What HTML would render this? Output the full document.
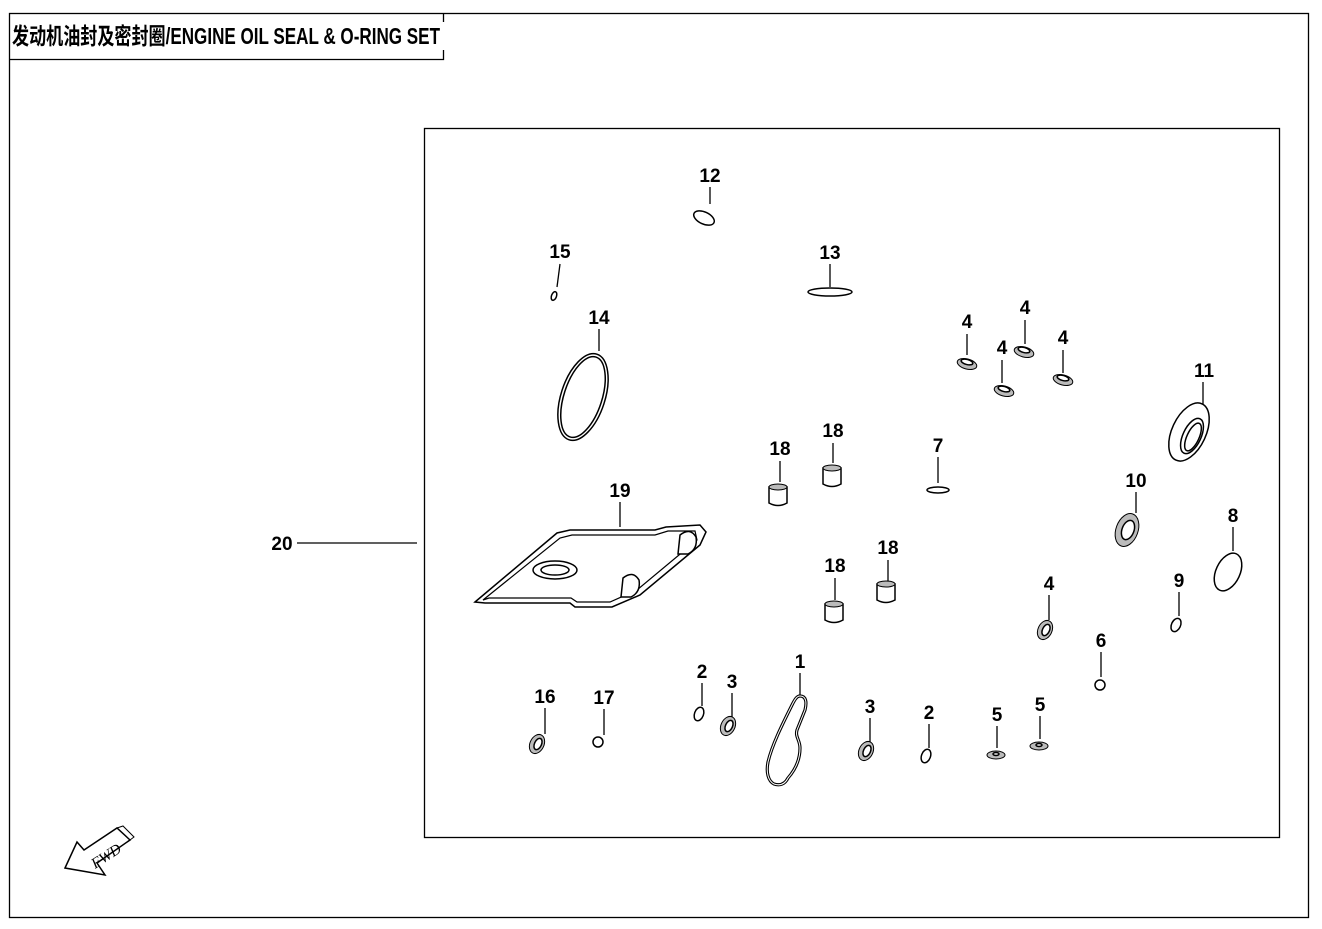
<!DOCTYPE html>
<html><head><meta charset="utf-8"><style>
html,body{margin:0;padding:0;background:#fff;width:1322px;height:929px;overflow:hidden}
svg{display:block}
.t{font-family:"Liberation Sans Narrow","Liberation Sans",sans-serif;font-weight:bold;font-size:19px;fill:#000;text-anchor:middle}
.l{stroke:#000;stroke-width:1.3;fill:none}
.p{stroke:#000;stroke-width:1.5;fill:#fff}
.g{fill:#bbb;stroke:#000;stroke-width:1}
</style></head><body>
<svg width="1322" height="929" viewBox="0 0 1322 929">
<rect x="9.5" y="13.5" width="1299" height="904" class="l"/>
<path d="M9 59.5H443.5V50M443.5 13V22" class="l"/>
<text x="12" y="44" style="font-family:'Liberation Sans Narrow','Liberation Sans','Noto Sans CJK SC',sans-serif;font-weight:bold;font-size:23px" textLength="428" lengthAdjust="spacingAndGlyphs">发动机油封及密封圈/ENGINE OIL SEAL &amp; O-RING SET</text>
<rect x="424.5" y="128.5" width="855" height="709" class="l"/>

<text class="t" x="282" y="550">20</text><path d="M297 543H417" class="l"/>
<text class="t" x="710" y="182">12</text><path d="M710 187V204" class="l"/>
<ellipse cx="704" cy="218" rx="11" ry="6" transform="rotate(25 704 218)" class="p" stroke-width="2.5"/>
<text class="t" x="560" y="258">15</text><path d="M560 264L557 287" class="l"/>
<ellipse cx="554" cy="296" rx="2.5" ry="4.5" transform="rotate(20 554 296)" class="p"/>
<text class="t" x="830" y="259">13</text><path d="M830 264V287" class="l"/>
<ellipse cx="830" cy="292" rx="22" ry="4" class="p" stroke-width="2"/>
<text class="t" x="599" y="324">14</text><path d="M599 329V351" class="l"/>
<ellipse cx="583" cy="397" rx="22" ry="45" transform="rotate(18 583 397)" class="p" stroke-width="1.5"/>
<ellipse cx="583" cy="397" rx="19" ry="42" transform="rotate(18 583 397)" fill="none" stroke="#000" stroke-width="1.5"/>
<g>
<text class="t" x="967" y="328">4</text><path d="M967 334V355" class="l"/>
<ellipse cx="967" cy="364" rx="10" ry="5" transform="rotate(15 967 364)" class="g"/><ellipse cx="967" cy="362" rx="6" ry="2.5" transform="rotate(15 967 362)" class="p"/>
<text class="t" x="1025" y="314">4</text><path d="M1025 320V344" class="l"/>
<ellipse cx="1024" cy="352" rx="10" ry="5" transform="rotate(15 1024 352)" class="g"/><ellipse cx="1024" cy="350" rx="6" ry="2.5" transform="rotate(15 1024 350)" class="p"/>
<text class="t" x="1002" y="354">4</text><path d="M1002 360V383" class="l"/>
<ellipse cx="1004" cy="391" rx="10" ry="5" transform="rotate(15 1004 391)" class="g"/><ellipse cx="1004" cy="389" rx="6" ry="2.5" transform="rotate(15 1004 389)" class="p"/>
<text class="t" x="1063" y="344">4</text><path d="M1063 350V373" class="l"/>
<ellipse cx="1063" cy="380" rx="10" ry="5" transform="rotate(15 1063 380)" class="g"/><ellipse cx="1063" cy="378" rx="6" ry="2.5" transform="rotate(15 1063 378)" class="p"/>
</g>
<text class="t" x="1204" y="377">11</text><path d="M1203 382V408" class="l"/>
<ellipse cx="1189" cy="432" rx="17" ry="31" transform="rotate(25 1189 432)" class="p"/>
<ellipse cx="1192" cy="436" rx="9" ry="19" transform="rotate(25 1192 436)" class="p"/>
<ellipse cx="1193" cy="437" rx="6" ry="15" transform="rotate(25 1193 437)" class="p"/>
<g id="c">
<path d="M769 487h18v16q-9 5 -18 0z" class="p"/><ellipse cx="778" cy="487" rx="9" ry="3" class="g"/>
</g>
<text class="t" x="780" y="455">18</text><path d="M780 461V482" class="l"/>
<use href="#c" transform="translate(54 -19)"/>
<text class="t" x="833" y="437">18</text><path d="M833 443V463" class="l"/>
<use href="#c" transform="translate(56 117)"/>
<text class="t" x="835" y="572">18</text><path d="M835 578V600" class="l"/>
<use href="#c" transform="translate(108 97)"/>
<text class="t" x="888" y="554">18</text><path d="M888 560V581" class="l"/>
<text class="t" x="938" y="452">7</text><path d="M938 457V483" class="l"/>
<ellipse cx="938" cy="490" rx="11" ry="3" class="p"/>
<text class="t" x="1136" y="487">10</text><path d="M1136 492V513" class="l"/>
<ellipse cx="1127" cy="530" rx="11" ry="17" transform="rotate(20 1127 530)" class="g"/><ellipse cx="1128" cy="530" rx="6" ry="10" transform="rotate(20 1128 530)" class="p"/>
<text class="t" x="1233" y="522">8</text><path d="M1233 527V551" class="l"/>
<ellipse cx="1228" cy="572" rx="12" ry="20" transform="rotate(25 1228 572)" class="p" stroke-width="2.5"/>
<text class="t" x="1179" y="587">9</text><path d="M1179 592V616" class="l"/>
<ellipse cx="1176" cy="625" rx="4.5" ry="7" transform="rotate(25 1176 625)" class="p" stroke-width="2"/>
<text class="t" x="1049" y="590">4</text><path d="M1049 595V620" class="l"/>
<ellipse cx="1045" cy="630" rx="7" ry="10" transform="rotate(25 1045 630)" class="g"/><ellipse cx="1046" cy="630" rx="3.5" ry="6" transform="rotate(25 1046 630)" class="p"/>
<text class="t" x="1101" y="647">6</text><path d="M1101 652V677" class="l"/>
<circle cx="1100" cy="685" r="5" class="p" stroke-width="2"/>
<text class="t" x="620" y="497">19</text><path d="M620 502V527" class="l"/>
<path d="M475 602L557 533L570 530H655L666 527L700 525L706 532L700 545L640 595L612 607H575L570 603H485Z" class="p" stroke-width="2"/>
<path d="M483 600L560 538L572 535H655L668 531L695 531L697 540L637 590L610 602H577L571 598H489Z" fill="none" stroke="#000" stroke-width="1.2"/>
<ellipse cx="555" cy="570" rx="22" ry="9" class="p" stroke-width="2"/><ellipse cx="555" cy="570" rx="14" ry="5" class="p"/>
<path d="M680 535q10 -8 16 2q2 12 -8 17l-10 0z" class="p"/>
<path d="M623 578q10 -8 16 2q2 12 -8 17l-10 0z" class="p"/>
<text class="t" x="800" y="668">1</text><path d="M800 673V696" class="l"/>
<path d="M800 696C806 696 807 702 805 710L797 730C795 737 800 740 800 748C800 760 795 770 788 778C785 784 780 786 774 784C768 781 766 772 768 762C772 745 782 725 792 705C795 699 797 696 800 696Z" fill="none" stroke="#000" stroke-width="3.2"/>
<path d="M800 696C806 696 807 702 805 710L797 730C795 737 800 740 800 748C800 760 795 770 788 778C785 784 780 786 774 784C768 781 766 772 768 762C772 745 782 725 792 705C795 699 797 696 800 696Z" fill="none" stroke="#fff" stroke-width="1"/>
<text class="t" x="702" y="678">2</text><path d="M702 683V706" class="l"/>
<ellipse cx="699" cy="714" rx="4.5" ry="7" transform="rotate(20 699 714)" class="p" stroke-width="2"/>
<text class="t" x="732" y="688">3</text><path d="M732 693V717" class="l"/>
<ellipse cx="728" cy="726" rx="7" ry="10" transform="rotate(25 728 726)" class="g"/><ellipse cx="729" cy="726" rx="3.5" ry="6" transform="rotate(25 729 726)" class="p"/>
<text class="t" x="870" y="713">3</text><path d="M870 718V742" class="l"/>
<ellipse cx="866" cy="751" rx="7" ry="10" transform="rotate(25 866 751)" class="g"/><ellipse cx="867" cy="751" rx="3.5" ry="6" transform="rotate(25 867 751)" class="p"/>
<text class="t" x="929" y="719">2</text><path d="M929 724V748" class="l"/>
<ellipse cx="926" cy="756" rx="4.5" ry="7" transform="rotate(20 926 756)" class="p" stroke-width="2"/>
<text class="t" x="545" y="703">16</text><path d="M545 708V734" class="l"/>
<ellipse cx="537" cy="744" rx="7" ry="10" transform="rotate(25 537 744)" class="g"/><ellipse cx="538" cy="744" rx="3.5" ry="6" transform="rotate(25 538 744)" class="p"/>
<text class="t" x="604" y="704">17</text><path d="M604 709V735" class="l"/>
<circle cx="598" cy="742" r="5" class="p" stroke-width="2"/>
<text class="t" x="997" y="721">5</text><path d="M997 726V748" class="l"/>
<ellipse cx="996" cy="755" rx="9" ry="4" class="g"/><ellipse cx="996" cy="754" rx="3" ry="1.5" class="p"/>
<text class="t" x="1040" y="711">5</text><path d="M1040 716V739" class="l"/>
<ellipse cx="1039" cy="746" rx="9" ry="4" class="g"/><ellipse cx="1039" cy="745" rx="3" ry="1.5" class="p"/>
<path d="M65 868L77 842L84 850L117 828L130 840L97 863L105 875Z" class="p" stroke-width="1.2"/>
<path d="M117 828L123 826L134 837L130 840" fill="none" stroke="#000" stroke-width="1"/>
<text x="106" y="861" transform="rotate(-33 106 856)" style="font-family:'Liberation Serif',serif;font-size:15px;font-style:italic" text-anchor="middle">FWD</text>
</svg>
</body></html>
